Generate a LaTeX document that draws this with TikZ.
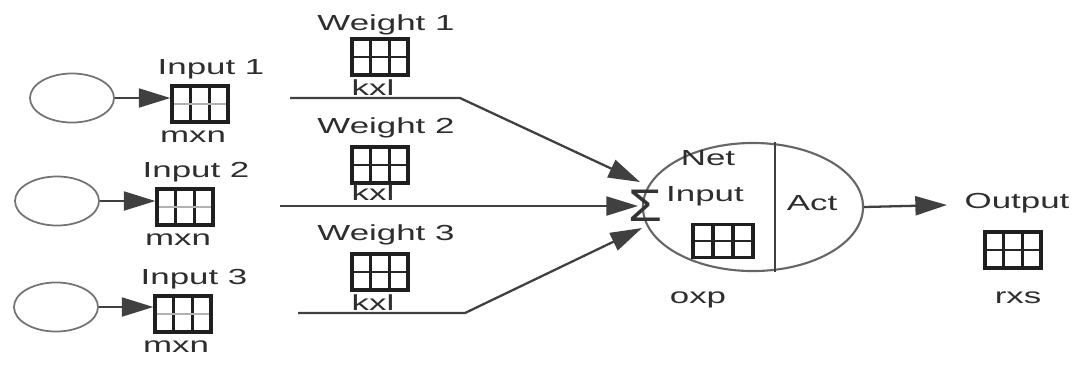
\documentclass[tikz,border=0pt]{standalone}
\usepackage{fontspec}
\setmainfont{Liberation Sans}
\newfontfamily\lblfont[FakeStretch=1.6]{Liberation Sans}
\newfontfamily\sigfont[FakeStretch=1.2]{Liberation Sans}
\usetikzlibrary{arrows.meta,shapes.geometric,calc}

\tikzset{
  lbl/.style={text=black!82, font=\lblfont\fontsize{6.2}{7}\selectfont, inner sep=0},
  wire/.style={draw=black!75, line width=0.65pt},
  arr/.style={wire, -{Triangle[length=9pt,width=5.4pt]}},
  src/.style={draw=black!55, line width=0.5pt, ellipse, inner sep=0,
    minimum width=0.84cm, minimum height=0.49cm},
  cells/.style={draw=black!88, line width=0.9pt, inner sep=0,
    minimum width=0.56cm, minimum height=0.36cm,
    path picture={
      \foreach \f in {0.333,0.667}
        \draw[line width=0.9pt]
          ($(path picture bounding box.south west)!\f!(path picture bounding box.south east)$) --
          ($(path picture bounding box.north west)!\f!(path picture bounding box.north east)$);
      \draw[#1, line width=0.6pt] (path picture bounding box.west) -- (path picture bounding box.east);
    }},
  cells/.default=black!85,
}

\begin{document}
\begin{tikzpicture}[x=0.01cm,y=-0.01cm]
\useasboundingbox (0,0) rectangle (1078,390);

% inputs with their matrices
\foreach \n/\ex/\ey/\mx/\my in {1/72/98/200/104, 2/57/201/185/207, 3/56/307/183/314}{
  \node[src] (in\n) at (\ex,\ey) {};
  \node[cells=black!30] (x\n) at (\mx,\my) {};
  \node[lbl] (xl\n) at (\mx+11,\my-35) {Input \n};
  \node[lbl] (xd\n) at (\mx-7,\my+33) {mxn};
  \draw[arr] (in\n.east) -- (in\n.east -| x\n.west);
}

% weights
\foreach \n/\wy/\ty/\dy in {1/57/25/88, 2/165/128/193, 3/272/235/303}{
  \node[cells] (w\n) at (380,\wy) {};
  \node[lbl] (wl\n) at (386,\ty) {Weight \n};
  \node[lbl] (wd\n) at (373,\dy) {kxl};
}

% neuron
\node[ellipse, draw=black!60, line width=0.6pt, inner sep=0,
  minimum width=2.2cm, minimum height=1.28cm] (neu) at (753,207) {};
\draw[wire] ([xshift=0.22cm]neu.north) -- ([xshift=0.22cm]neu.south);
\node[text=black!80, font=\sigfont\fontsize{13}{13}\selectfont, inner sep=0] (sig) at (645,206) {Σ};
\node[lbl] (net) at (708,158) {Net};
\node[lbl] (inp) at (705,196) {Input};
\node[cells, minimum width=0.6cm, minimum height=0.33cm] (nm) at (723,241) {};
\node[lbl] (act) at (812,203) {Act};
\node[lbl] (oxp) at (698,300) {oxp};

% weighted lines into the sum
\coordinate (a1) at (290,98);  \coordinate (b1) at (460,98);  \coordinate (t1) at (640,182);
\coordinate (a2) at (280,206); \coordinate (t2) at (638,206);
\coordinate (a3) at (298,313); \coordinate (b3) at (465,313); \coordinate (t3) at (642,228);
\draw[arr] (a1) -- (b1) -- (t1);
\draw[arr] (a2) -- (t2);
\draw[arr] (a3) -- (b3) -- (t3);

% output
\node[lbl] (ol) at (1017,203) {Output};
\node[cells] (o) at (1013,250) {};
\node[lbl] (od) at (1018,298) {rxs};
\coordinate (t4) at (947,205);
\draw[arr] (neu.east) -- (t4);
\end{tikzpicture}
\end{document}
